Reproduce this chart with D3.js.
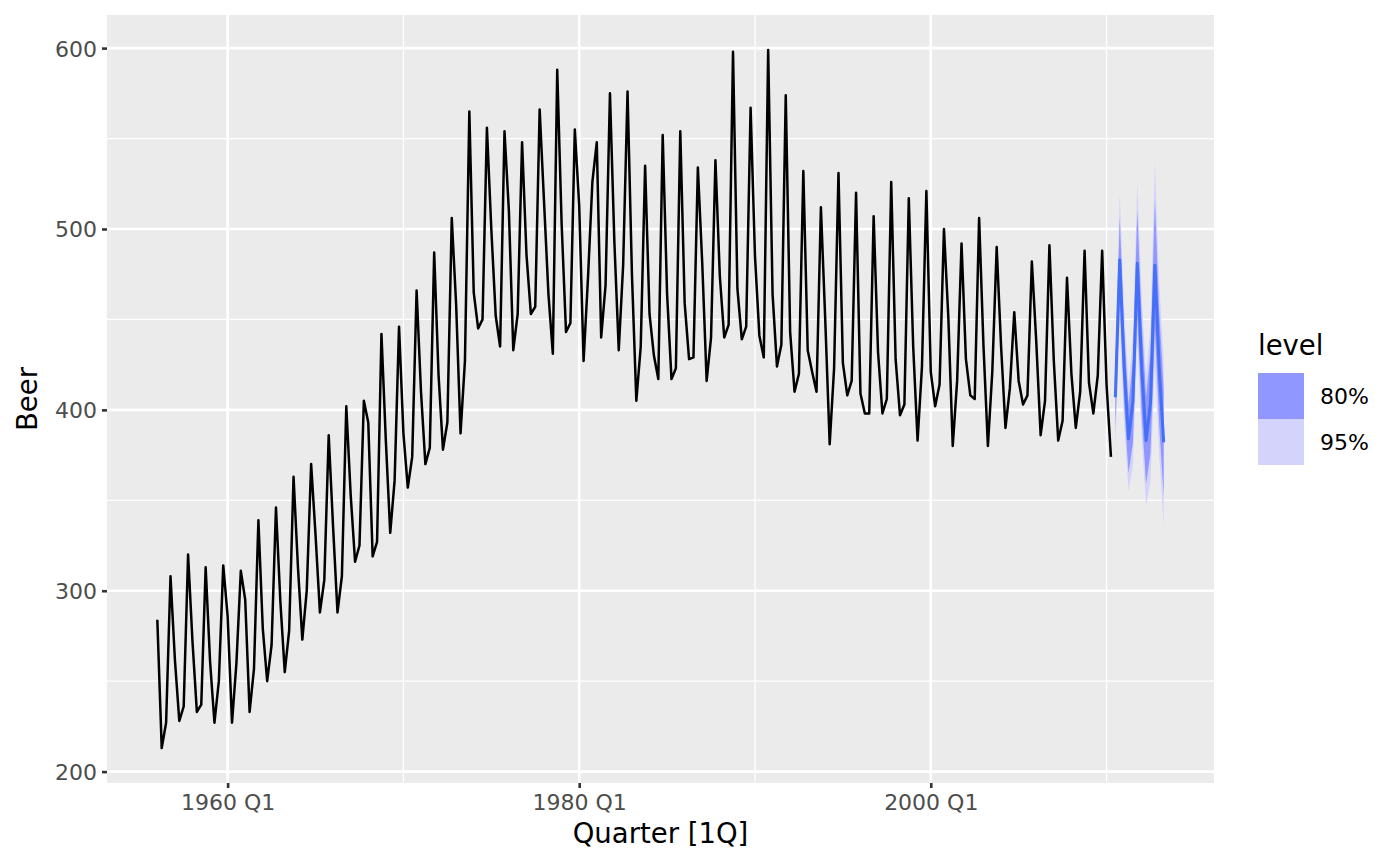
<!DOCTYPE html>
<html>
<head>
<meta charset="utf-8">
<script src="https://cdn.jsdelivr.net/npm/d3@7"></script>
<style>
  html, body { margin: 0; padding: 0; background: #fff; }
  svg { display: block; font-family: "DejaVu Sans", sans-serif; }
</style>
</head>
<body>
<svg id="chart" width="1400" height="866"></svg>
<script>
// ---- Data ----
const startYear = 1956; // 1956 Q1
const beer = [
  284,213,227,308, 262,228,236,320, 272,233,237,313, 261,227,250,314,
  286,227,260,311, 295,233,257,339, 279,250,270,346, 294,255,278,363,
  313,273,300,370, 331,288,306,386, 335,288,308,402, 353,316,325,405,
  393,319,327,442, 383,332,361,446, 387,357,374,466, 410,370,379,487,
  419,378,393,506, 458,387,427,565, 465,445,450,556, 500,452,435,554,
  510,433,453,548, 486,453,457,566, 515,464,431,588, 503,443,448,555,
  513,427,473,526, 548,440,469,575, 493,433,480,576, 475,405,435,535,
  453,430,417,552, 464,417,423,554, 459,428,429,534, 481,416,440,538,
  474,440,447,598, 467,439,446,567, 485,441,429,599, 464,424,436,574,
  443,410,420,532, 433,421,410,512, 449,381,423,531, 426,408,416,520,
  409,398,398,507, 432,398,406,526, 428,397,403,517, 435,383,424,521,
  421,402,414,500, 451,380,416,492, 428,408,406,506, 435,380,421,490,
  435,390,412,454, 416,403,408,482, 438,386,405,491, 427,383,394,473,
  420,390,410,488, 415,398,419,488, 414,374
];
// forecast starts 2010 Q3
const fcStart = 2010.5;
const fcMean = [407,483,424,384, 405,481,423,383, 404,480,422,382];
const lo80   = [389,460,403,365, 382,452,397,359, 376,445,391,352];
const hi80   = [425,506,445,403, 428,510,449,407, 432,516,453,412];
const lo95   = [379,447,392,355, 369,437,383,347, 361,425,374,336];
const hi95   = [435,519,456,414, 441,526,463,419, 447,537,470,428];
const levels = ["80%","95%"];
const yTicks = [200,300,400,500,600];
const xTicks = [1960,1980,2000];
const xTickLabels = ["1960 Q1","1980 Q1","2000 Q1"];

// ---- Layout ----
const svg = d3.select("#chart");
const L = 107, R = 1214, T = 15, B = 783;

const hist = beer.map((v,i)=>({t: startYear + i/4, v}));
const fc = fcMean.map((v,i)=>({t: fcStart + i/4, v, lo80: lo80[i], hi80: hi80[i], lo95: lo95[i], hi95: hi95[i]}));

const tMin = startYear, tMax = fc[fc.length-1].t;
const tPad = (tMax - tMin) * 0.05;
const x = d3.scaleLinear().domain([tMin - tPad, tMax + tPad]).range([L, R]);
const vMin = Math.min(d3.min(beer), d3.min(lo95)), vMax = Math.max(d3.max(beer), d3.max(hi95));
const vPad = (vMax - vMin) * 0.05;
const y = d3.scaleLinear().domain([vMin - vPad, vMax + vPad]).range([B, T]);

// panel
svg.append("rect").attr("x", L).attr("y", T).attr("width", R-L).attr("height", B-T).attr("fill", "#ebebeb");

// minor grid
const yMinor = [250,350,450,550];
const xMinor = [1950,1970,1990,2010].filter(v => x(v) >= L && x(v) <= R);
svg.append("g").selectAll("line").data(yMinor).join("line")
  .attr("x1", L).attr("x2", R).attr("y1", d=>y(d)).attr("y2", d=>y(d))
  .attr("stroke", "#fff").attr("stroke-width", 1.3);
svg.append("g").selectAll("line").data(xMinor).join("line")
  .attr("y1", T).attr("y2", B).attr("x1", d=>x(d)).attr("x2", d=>x(d))
  .attr("stroke", "#fff").attr("stroke-width", 1.3);
// major grid
svg.append("g").selectAll("line").data(yTicks).join("line")
  .attr("x1", L).attr("x2", R).attr("y1", d=>y(d)).attr("y2", d=>y(d))
  .attr("stroke", "#fff").attr("stroke-width", 2.6);
svg.append("g").selectAll("line").data(xTicks).join("line")
  .attr("y1", T).attr("y2", B).attr("x1", d=>x(d)).attr("x2", d=>x(d))
  .attr("stroke", "#fff").attr("stroke-width", 2.6);

// intervals
const area95 = d3.area().x(d=>x(d.t)).y0(d=>y(d.lo95)).y1(d=>y(d.hi95));
const area80 = d3.area().x(d=>x(d.t)).y0(d=>y(d.lo80)).y1(d=>y(d.hi80));
svg.append("path").datum(fc).attr("d", area95).attr("fill", "#d3d3fb");
svg.append("path").datum(fc).attr("d", area80).attr("fill", "#9097fe");

// lines
const line = d3.line().x(d=>x(d.t)).y(d=>y(d.v));
svg.append("path").datum(hist).attr("d", line).attr("fill", "none")
  .attr("stroke", "#000").attr("stroke-width", 2.5).attr("stroke-linejoin", "round");
svg.append("path").datum(fc).attr("d", line).attr("fill", "none")
  .attr("stroke", "#4470f8").attr("stroke-width", 3).attr("stroke-linejoin", "round");

// axes
const yAxis = svg.append("g").attr("transform", `translate(${L},0)`)
  .call(d3.axisLeft(y).tickValues(yTicks).tickSize(5).tickPadding(5));
const xAxis = svg.append("g").attr("transform", `translate(0,${B})`)
  .call(d3.axisBottom(x).tickValues(xTicks).tickFormat((d,i)=>xTickLabels[i]).tickSize(5).tickPadding(4));
[yAxis, xAxis].forEach(g => {
  g.select(".domain").remove();
  g.selectAll(".tick line").attr("stroke", "#333").attr("stroke-width", 2.6);
  g.selectAll(".tick text").attr("fill", "#4d4d4d").style("font-size", "22px").style("font-family", "DejaVu Sans, sans-serif");
});
yAxis.selectAll(".tick text").attr("dy", "0.36em");
xAxis.selectAll(".tick text").attr("dy", "0.8em");

// axis titles
svg.append("text").attr("x", (L+R)/2).attr("y", 843).attr("text-anchor", "middle")
  .style("font-size", "27.5px").attr("fill", "#000").text("Quarter [1Q]");
svg.append("text").attr("transform", `translate(37,${(T+B)/2}) rotate(-90)`).attr("text-anchor", "middle")
  .style("font-size", "27.5px").attr("fill", "#000").text("Beer");

// legend
const lg = svg.append("g");
lg.append("text").attr("x", 1258).attr("y", 355).style("font-size", "27.5px").attr("fill", "#000").text("level");
const keyColors = ["#9097fe", "#d3d3fb"];
levels.forEach((lv, i) => {
  lg.append("rect").attr("x", 1258).attr("y", 373 + i*46).attr("width", 46).attr("height", 46).attr("fill", keyColors[i]);
  lg.append("text").attr("x", 1320).attr("y", 396 + i*46).attr("dy", "0.36em")
    .style("font-size", "22px").attr("fill", "#000").text(lv);
});
</script>
</body>
</html>
